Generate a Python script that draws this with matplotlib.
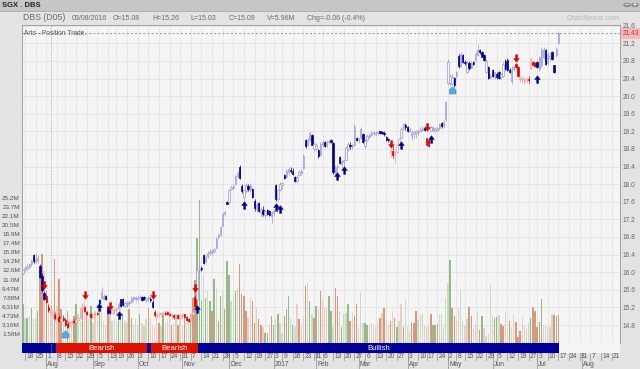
import numpy as np
import pandas as pd
import matplotlib
matplotlib.use('Agg')
import matplotlib.pyplot as plt
from matplotlib.patches import Rectangle, Circle
from matplotlib.lines import Line2D

W, H = 640, 369
plt.rcParams['font.family'] = ['Liberation Sans', 'DejaVu Sans']

# trading calendar (SGX holidays removed)
holidays = ['2016-08-09', '2016-09-12', '2016-12-26', '2017-01-02', '2017-01-30',
            '2017-04-14', '2017-05-01', '2017-05-10', '2017-06-26']
days = pd.bdate_range('2016-07-15', '2017-08-25')
days = days[~days.isin(pd.to_datetime(holidays))]

opens = [15.98,16.05,16.10,16.12,16.18,16.38,16.24,16.28,16.14,15.92,
         15.52,15.46,15.22,15.08,15.04,15.02,14.95,14.98,14.88,14.95,
         14.92,14.82,14.78,14.86,14.88,14.86,14.92,14.96,15.16,15.22,
         15.10,15.04,15.06,14.98,15.04,15.08,15.36,15.42,15.40,15.46,
         15.20,15.12,15.08,15.12,15.14,15.18,15.38,15.40,15.24,15.28,
         15.30,15.32,15.40,15.38,15.40,15.42,15.44,15.44,15.36,15.38,
         15.40,15.32,15.10,15.00,15.04,15.04,15.06,15.08,15.10,15.06,
         15.00,15.02,14.98,15.02,14.96,15.00,15.04,14.98,14.94,14.92,
         15.05,15.44,15.40,16.05,16.10,16.40,16.24,16.36,16.44,16.46,
         16.48,16.56,16.80,16.84,17.06,17.32,17.60,17.60,17.88,17.92,
         18.00,18.18,18.40,17.96,17.70,17.84,17.96,17.86,17.88,17.62,
         17.44,17.58,17.36,17.42,17.30,17.42,17.38,17.28,17.34,17.98,
         17.66,17.86,17.98,18.22,18.16,18.28,18.32,18.30,18.16,18.08,
         18.20,18.26,18.36,19.00,18.88,19.00,19.12,18.80,18.80,18.78,
         18.66,18.90,18.96,18.86,18.96,19.00,18.94,18.26,18.38,18.62,
         18.46,18.50,18.56,18.80,18.90,18.86,18.90,19.06,19.00,19.06,
         19.14,18.86,19.00,19.08,19.12,19.16,19.14,19.16,19.20,19.18,
         19.16,19.08,19.02,18.74,18.76,18.66,18.74,18.90,19.06,19.28,
         19.34,19.30,19.22,19.10,19.14,19.16,19.18,19.22,19.24,19.28,
         19.04,19.00,19.22,19.26,19.22,19.24,19.28,19.40,19.32,19.48,
         20.30,20.30,20.28,20.42,20.46,20.92,20.68,20.94,20.78,20.56,
         20.76,20.64,20.78,20.82,20.94,21.04,21.00,20.94,20.56,20.66,
         20.44,20.60,20.44,20.50,20.56,20.44,20.46,20.80,20.82,20.60,
         20.34,20.62,20.74,20.66,20.40,20.36,20.34,20.36,20.40,20.64,
         20.78,20.76,20.78,20.62,20.70,20.88,21.06,20.76,20.86,21.00,
         20.70,20.94,21.20]
highs = [16.08,16.14,16.18,16.22,16.30,16.42,16.44,16.38,16.18,15.98,
         15.58,15.50,15.28,15.26,15.12,15.10,15.06,15.02,15.00,15.02,
         14.96,14.88,14.90,14.92,14.94,14.96,15.00,15.22,15.30,15.24,
         15.12,15.10,15.08,15.08,15.10,15.10,15.40,15.66,15.50,15.48,
         15.24,15.16,15.20,15.20,15.22,15.32,15.40,15.42,15.34,15.34,
         15.36,15.46,15.46,15.46,15.46,15.48,15.46,15.46,15.44,15.46,
         15.44,15.36,15.14,15.10,15.10,15.10,15.12,15.12,15.12,15.08,
         15.06,15.06,15.04,15.04,15.04,15.08,15.06,15.00,14.96,15.08,
         15.14,15.48,16.12,16.15,16.14,16.42,16.38,16.48,16.52,16.52,
         16.56,16.80,16.90,17.06,17.36,17.40,17.62,17.90,17.98,18.00,
         18.22,18.30,18.44,18.00,17.90,18.02,18.00,18.02,17.92,17.66,
         17.60,17.60,17.48,17.50,17.42,17.44,17.42,17.38,17.44,18.00,
         17.90,18.04,18.06,18.24,18.34,18.38,18.40,18.36,18.18,18.20,
         18.32,18.34,18.68,19.02,19.04,19.20,19.14,18.96,18.94,18.80,
         18.96,19.00,18.98,19.00,19.02,19.02,18.96,18.44,18.46,18.64,
         18.56,18.58,18.86,18.96,18.96,18.94,19.36,19.08,19.06,19.30,
         19.16,19.02,19.14,19.16,19.20,19.22,19.20,19.22,19.22,19.22,
         19.20,19.10,19.06,18.80,18.86,18.78,18.92,19.06,19.30,19.40,
         19.38,19.32,19.30,19.24,19.22,19.24,19.26,19.30,19.32,19.32,
         19.06,19.02,19.32,19.32,19.30,19.30,19.40,19.42,19.46,19.90,
         20.84,20.50,20.50,20.44,20.58,20.96,21.00,20.96,20.82,20.80,
         20.80,20.80,20.80,21.00,21.18,21.08,21.02,20.96,20.84,20.68,
         20.50,20.62,20.56,20.56,20.58,20.52,20.78,20.84,20.86,20.64,
         20.68,20.70,20.76,20.68,20.46,20.46,20.44,20.44,20.46,20.88,
         20.80,20.78,20.80,20.92,21.12,21.12,21.08,21.00,20.98,21.02,
         20.72,21.12,21.46]
lows = [15.95,16.02,16.06,16.08,16.14,16.22,16.22,16.20,15.86,15.55,
        15.36,15.30,15.10,15.03,14.94,14.92,14.88,14.86,14.84,14.88,
        14.78,14.74,14.75,14.82,14.84,14.84,14.88,14.94,15.12,15.10,
        15.02,14.98,14.96,14.96,15.00,15.02,15.28,15.38,15.36,15.36,
        15.06,15.04,15.04,15.06,15.08,15.14,15.20,15.24,15.20,15.22,
        15.24,15.30,15.34,15.34,15.36,15.38,15.34,15.36,15.32,15.34,
        15.32,15.18,14.98,14.96,14.98,14.98,15.00,15.02,15.02,15.00,
        14.94,14.94,14.92,14.94,14.94,14.96,14.96,14.90,14.86,14.90,
        15.00,15.20,15.36,15.98,16.02,16.18,16.20,16.32,16.38,16.40,
        16.44,16.54,16.76,16.82,17.04,17.28,17.54,17.58,17.86,17.88,
        17.98,18.14,18.12,17.80,17.62,17.80,17.84,17.82,17.68,17.40,
        17.36,17.36,17.26,17.28,17.24,17.30,17.28,17.12,17.28,17.62,
        17.62,17.84,17.90,18.12,18.14,18.22,18.26,18.20,18.04,18.04,
        18.18,18.22,18.34,18.82,18.86,18.98,18.88,18.76,18.76,18.60,
        18.64,18.84,18.84,18.84,18.92,18.94,18.24,18.18,18.28,18.46,
        18.40,18.42,18.54,18.76,18.80,18.80,18.88,18.98,18.94,19.04,
        18.94,18.80,18.98,19.04,19.10,19.12,19.10,19.12,19.14,19.14,
        19.10,18.98,18.96,18.62,18.60,18.48,18.70,18.88,19.04,19.24,
        19.24,19.18,19.18,19.00,19.04,19.06,19.12,19.18,19.20,19.20,
        18.88,18.84,19.20,19.22,19.18,19.20,19.24,19.28,19.30,19.44,
        20.26,20.24,20.26,20.22,20.42,20.64,20.66,20.76,20.72,20.52,
        20.60,20.62,20.72,20.80,20.92,20.96,20.88,20.80,20.52,20.40,
        20.40,20.44,20.40,20.40,20.40,20.40,20.44,20.60,20.58,20.52,
        20.28,20.58,20.64,20.44,20.32,20.30,20.28,20.30,20.30,20.60,
        20.70,20.66,20.64,20.58,20.66,20.84,20.70,20.74,20.80,20.82,
        20.52,20.90,21.18]
closes = [16.05,16.10,16.13,16.18,16.26,16.25,16.30,16.32,15.90,15.60,
          15.40,15.32,15.14,15.09,15.06,14.96,15.00,14.88,14.95,14.92,
          14.80,14.76,14.86,14.88,14.86,14.92,14.96,15.18,15.26,15.12,
          15.06,15.06,14.98,15.04,15.06,15.04,15.30,15.55,15.46,15.40,
          15.08,15.10,15.14,15.16,15.18,15.28,15.24,15.26,15.30,15.30,
          15.32,15.42,15.44,15.44,15.42,15.44,15.36,15.38,15.42,15.44,
          15.36,15.20,15.02,15.06,15.06,15.08,15.08,15.06,15.04,15.02,
          15.04,14.98,15.00,14.96,15.02,15.04,14.98,14.92,14.90,15.06,
          15.10,15.24,16.05,16.10,16.08,16.22,16.34,16.44,16.46,16.48,
          16.52,16.76,16.84,17.03,17.32,17.36,17.56,17.86,17.94,17.97,
          18.18,18.26,18.14,17.84,17.86,17.98,17.90,17.98,17.70,17.46,
          17.56,17.38,17.44,17.32,17.38,17.32,17.30,17.34,17.40,17.66,
          17.86,18.00,18.02,18.14,18.30,18.34,18.30,18.24,18.08,18.16,
          18.28,18.30,18.64,18.86,19.00,19.16,18.90,18.92,18.88,18.64,
          18.92,18.96,18.86,18.96,18.98,18.96,18.28,18.40,18.42,18.48,
          18.52,18.54,18.82,18.92,18.86,18.90,19.30,19.00,19.04,19.26,
          18.96,18.98,19.10,19.12,19.16,19.18,19.16,19.18,19.16,19.16,
          19.14,19.00,19.00,18.78,18.66,18.74,18.88,19.02,19.26,19.36,
          19.30,19.20,19.26,19.16,19.18,19.20,19.22,19.26,19.28,19.24,
          18.90,18.86,19.30,19.28,19.26,19.28,19.36,19.32,19.42,19.86,
          20.78,20.46,20.44,20.26,20.54,20.68,20.96,20.78,20.76,20.76,
          20.64,20.76,20.74,20.96,21.04,21.00,20.90,20.82,20.80,20.42,
          20.46,20.46,20.54,20.44,20.42,20.50,20.74,20.62,20.60,20.56,
          20.62,20.66,20.66,20.46,20.42,20.40,20.38,20.40,20.36,20.84,
          20.72,20.68,20.66,20.88,21.06,21.08,20.74,20.96,20.92,20.84,
          20.56,21.08,21.43]
# volume in millions and bar shade (G/g = up dark/light, S/s = down dark/light)
volumes = [6.7,4.1,4.4,4.7,6.0,4.1,4.4,5.6,11.7,15.4,
           12.5,9.0,7.3,5.96,5.9,14.6,6.4,11.1,5.9,3.8,
           4.4,5.6,4.1,3.5,4.7,6.7,5.0,3.8,6.1,7.3,
           5.6,4.4,6.4,3.5,5.6,4.4,6.7,7.6,3.8,3.2,
           5.3,6.4,3.8,4.1,3.5,4.4,6.7,5.3,3.8,3.5,
           5.9,4.4,3.2,4.1,3.2,5.0,3.5,3.0,4.1,6.1,
           4.4,3.2,2.7,4.4,3.5,3.0,5.0,3.5,4.1,5.6,
           3.2,3.5,5.0,3.2,4.1,3.0,5.0,3.5,4.1,5.0,
           7.9,11.0,18.3,24.8,7.3,11.9,7.9,9.0,7.3,5.6,
           11.1,9.6,3.8,8.2,9.0,5.9,14.3,11.9,7.3,8.2,
           9.0,9.6,13.7,8.5,8.2,5.6,4.4,7.9,7.3,3.5,
           6.1,4.1,3.2,2.7,1.8,1.8,3.0,4.7,3.2,4.1,
           5.0,3.5,1.8,4.7,5.9,8.2,4.4,3.2,2.7,6.7,
           4.1,3.0,4.4,9.9,10.5,7.3,5.0,4.4,6.4,5.9,
           9.0,7.6,6.1,6.1,8.2,5.6,2.7,9.6,8.2,5.6,
           2.7,5.3,5.3,6.7,3.8,5.3,4.7,6.7,2.7,8.8,
           3.5,3.5,3.2,3.2,3.5,3.0,2.7,3.5,4.4,5.3,
           6.1,3.8,3.2,3.8,5.6,4.4,2.7,3.8,6.7,2.7,
           7.6,2.8,1.9,3.7,3.4,5.6,4.0,5.0,5.0,3.1,
           2.8,3.0,5.1,3.2,3.1,3.3,5.0,5.0,2.7,7.8,
           10.5,14.4,6.1,4.7,4.2,6.1,9.4,3.8,3.0,4.2,
           6.3,4.7,2.5,3.3,5.3,2.3,4.7,2.6,1.3,1.6,
           10.3,4.7,4.4,4.6,4.9,3.3,2.9,5.4,2.5,3.8,
           2.8,5.0,3.6,1.1,2.0,4.6,3.0,2.6,3.5,4.4,
           6.3,5.5,2.8,3.6,7.6,3.1,3.0,2.7,2.8,5.0,
           4.9,4.7,4.9]
vol_shade = ('GgGgGggGSS' 'sSssgSsSSg' 'gGgsSGggSs' 'SsGgssGggs'
             'SsgsgGgGsg' 'SGgsgGsggS' 'ssssSsGsgs' 'SgsSgsSsgG'
             'SSGGGgGgGS' 'GgSGgSGGgg' 'GgSSSSssSS' 'sSSsGGsSGg'
             'GsgSGGgGgs' 'SssSgGgSGs' 'SsssGGgSSs' 'GggGSsSSsg'
             'gGGssgsgSs' 'SsgSsSGgsS' 'gggSSSgggs' 'sgSGSGggsg'
             'gGSSsgggsg' 'SSgsgSGsgs' 'gsGGgSSsgS' 'gsSSSsgsgG'
             'SSSGGssggs' 'SGS')

red_runs = [(11, 35), (42, 44), (62, 81), (173, 177), (190, 191), (232, 241)]
sell_arrows = [(10, 15.78), (29, 15.55), (41, 15.30), (61, 15.55), (81, 15.72),
               (173, 18.98), (190, 19.36), (232, 20.94)]
buy_arrows = [(36, 15.14), (45, 14.96), (82, 15.10), (104, 17.46), (119, 17.41),
              (121, 17.37), (148, 18.12), (151, 18.26), (178, 18.82), (192, 18.96),
              (242, 20.32)]
houses = [(20, 14.53), (202, 20.07)]
band_bear = [(16, 58), (61, 82)]
last_price = 21.43
cursor_idx = 13

price_ticks = [14.8, 15.2, 15.6, 16.0, 16.4, 16.8, 17.2, 17.6, 18.0, 18.4, 18.8,
               19.2, 19.6, 20.0, 20.4, 20.8, 21.2, 21.6]
vol_labels = ['1.58M', '3.16M', '4.73M', '6.31M', '7.88M', '9.47M', '11.0M', '12.6M',
              '14.2M', '15.8M', '17.4M', '18.9M', '20.5M', '22.1M', '23.7M', '25.2M']
vol_step = 1.577

n = len(closes)
idx = np.arange(n)
X0, XPX = 22.875, 2.125   # pixel of index 0, pixels per day
xlim = ((22 - X0) / XPX, (620 - X0) / XPX)
plim = (14.391, 21.618)
vmax = 55.3

def fx(px):
    return px / W

def fy(py):
    return 1 - py / H

fig = plt.figure(figsize=(W / 100, H / 100), dpi=100, facecolor='#e3e3e3')

# title bar
fig.patches.append(Rectangle((0, fy(11)), 1, 11 / H, transform=fig.transFigure,
                             facecolor='#c6c6c6', edgecolor='none'))
fig.add_artist(Line2D([0, 1], [fy(11), fy(11)], color='#a8a8a8', lw=0.6))
fig.text(fx(2), fy(5.5), 'SGX . DBS', fontsize=5.5, fontweight='bold', color='#222',
         va='center')
for cx, sym in [(627, '−'), (635, '+')]:
    fig.patches.append(Circle((fx(cx), fy(5)), 3.8 / W, transform=fig.transFigure,
                              facecolor='#8a8a8a', edgecolor='none'))
    fig.text(fx(cx), fy(5.3), sym, fontsize=5, color='white', ha='center',
             va='center', fontweight='bold')

# header row
hdr = [(23, 'DBS (D05)', 6.3), (72, '03/08/2016', 5), (113, 'O=15.08', 5),
       (152, 'H=15.26', 5), (190, 'L=15.03', 5), (229, 'C=15.09', 5),
       (267, 'V=5.96M', 5), (307, 'Chg=-0.06 (-0.4%)', 5)]
for px, t, fs in hdr:
    fig.text(fx(px), fy(18), t, fontsize=fs, color='#6a6a6a', va='center')
fig.text(fx(619), fy(18), 'ChartNexus.com', fontsize=5, color='#b8b8b8',
         va='center', ha='right')

rect = [fx(22), fy(343), 598 / W, 318 / H]
ax_v = fig.add_axes(rect, facecolor='#f5f5f5')
ax_p = fig.add_axes(rect, facecolor='none', sharex=ax_v)

# weekly and monthly ticks
dser = pd.Series(days)
wk = dser.dt.isocalendar().week.values
week_first = [i for i in range(1, len(days)) if wk[i] != wk[i - 1]]
month_first = [i for i in range(1, len(days)) if days[i].month != days[i - 1].month]
week_first = [i for i in week_first if i < xlim[1]]
month_first = [i for i in month_first if i < xlim[1]]

ax_v.set_xlim(*xlim)
ax_v.set_ylim(0, vmax)
ax_p.set_ylim(*plim)

# grid
for i in week_first:
    ax_v.axvline(i, color='#e4e4e4', lw=0.6, zorder=0)
for p in price_ticks:
    ax_v.axhline((p - plim[0]) / (plim[1] - plim[0]) * vmax, color='#e4e4e4',
                 lw=0.6, zorder=0)

# volume bars
shade_col = {'G': '#98b78a', 'g': '#cadcc2', 'S': '#d39a82', 's': '#ecccc3'}
ax_v.bar(idx, volumes, width=0.6, color=[shade_col[c] for c in vol_shade],
         linewidth=0, zorder=1)
ax_v.set_yticks([vol_step * (k + 1) for k in range(len(vol_labels))])
ax_v.set_yticklabels(vol_labels)
ax_v.tick_params(axis='y', length=0, pad=1.5, labelsize=4.6, labelcolor='#555')
ax_v.tick_params(axis='x', bottom=False, labelbottom=False)
for s in ax_v.spines.values():
    s.set_color('#a0a0a0')
    s.set_linewidth(0.7)

# candles
is_red = np.zeros(n, bool)
for a, b in red_runs:
    is_red[a:b + 1] = True
for i in range(n):
    o, h, l, c = opens[i], highs[i], lows[i], closes[i]
    if is_red[i]:
        pale, dark = '#ee9e9e', '#e00000'
    else:
        pale, dark = '#9a9ace', '#000088'
    up = c >= o
    col = pale if up else dark
    ax_p.plot([i, i], [l, h], color=col, lw=0.5, zorder=3, solid_capstyle='butt')
    ax_p.add_patch(Rectangle((i - 0.33, min(o, c)), 0.66, max(abs(c - o), 0.012),
                             facecolor='#f7f7f7' if up else dark, edgecolor=col,
                             lw=0.5, zorder=4))

down_arrow = [(-0.3, 1), (0.3, 1), (0.3, 0), (0.75, 0), (0, -1), (-0.75, 0), (-0.3, 0)]
up_arrow = [(x, -y) for x, y in down_arrow]
house = [(-1, -1), (1, -1), (1, 0.15), (0, 1), (-1, 0.15)]
for i, p in sell_arrows:
    ax_p.plot(i, p - 0.07, marker=down_arrow, ms=5.5, color='#dd0000', mec='#dd0000',
              mew=0.3, zorder=5)
for i, p in buy_arrows:
    ax_p.plot(i, p + 0.07, marker=up_arrow, ms=5.5, color='#000088', mec='#000088',
              mew=0.3, zorder=5)
for i, p in houses:
    ax_p.plot(i, p + 0.06, marker=house, ms=5, color='#55aadd', mec='#3a88bb',
              mew=0.4, zorder=5)

ax_p.axhline(last_price, color='#8c8c8c', lw=0.6, ls=(0, (2.5, 2.5)), zorder=2)
ax_p.axvline(cursor_idx, color='#9a9a9a', lw=0.6, ls=(0, (1, 1.5)), zorder=2)

ax_p.yaxis.tick_right()
ax_p.set_yticks(price_ticks)
ax_p.set_yticklabels([f'{p:.1f}' for p in price_ticks])
ax_p.tick_params(axis='y', length=0, pad=2, labelsize=4.8, labelcolor='#666')
ax_p.tick_params(axis='x', bottom=False, labelbottom=False)
for s in ax_p.spines.values():
    s.set_visible(False)
ax_p.text(0.004, 0.985, 'Arts - Position Trade.', transform=ax_p.transAxes,
          fontsize=4.8, color='#555', va='top', ha='left')
fig.text(fx(631), fy(33.5), f'{last_price:.2f}', fontsize=4.8, color='#d03030',
         ha='center', va='center',
         bbox=dict(boxstyle='square,pad=0.25', fc='#f6b8b8', ec='none'))

# trend band
ax_b = fig.add_axes([fx(22), fy(352.7), 598 / W, 9.4 / H], facecolor='#f5f5f5',
                    sharex=ax_v)
ax_b.set_ylim(0, 1)
ax_b.axvspan(xlim[0], n - 0.5, color='#000099', lw=0)
for a, b in band_bear:
    ax_b.axvspan(a - 0.5, b + 0.5, color='#dd1100', lw=0)
    ax_b.text((a + b) / 2, 0.45, 'Bearish', color='white', fontsize=5.6,
              ha='center', va='center')
ax_b.text((band_bear[-1][1] + n) / 2, 0.45, 'Bullish', color='white', fontsize=5.6,
          ha='center', va='center')
ax_b.axvline(cursor_idx, color='#bbbbbb', lw=0.6, ls=(0, (1, 1.5)))
ax_b.set_xticks([])
ax_b.set_yticks([])
for s in ax_b.spines.values():
    s.set_visible(False)

# date axis
for i in week_first:
    px = X0 + XPX * i
    fig.add_artist(Line2D([fx(px), fx(px)], [fy(352.7), fy(359.5)], color='#8c8c8c',
                          lw=0.5))
    fig.text(fx(px + 1.2), fy(356.3), str(days[i].day), fontsize=4.8, color='#555',
             va='center')
for i in month_first:
    px = X0 + XPX * i
    fig.add_artist(Line2D([fx(px), fx(px)], [fy(352.7), 0], color='#8c8c8c', lw=0.5))
    lab = str(days[i].year) if days[i].month == 1 else days[i].strftime('%b')
    fig.text(fx(px + 1.2), fy(364.8), lab, fontsize=4.8, color='#555', va='center')

fig.savefig('out.png', dpi=100, facecolor=fig.get_facecolor())
